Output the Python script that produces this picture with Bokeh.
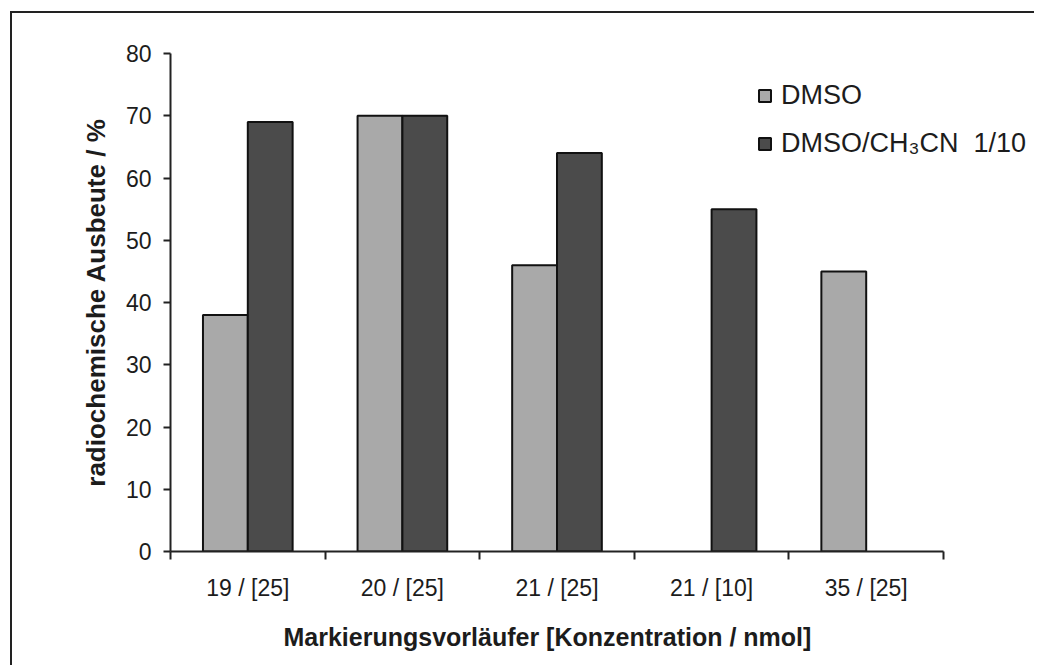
from bokeh.plotting import figure
from bokeh.models import (ColumnDataSource, Range1d, FixedTicker, Legend, LegendItem, Title)
from bokeh.transform import dodge
from bokeh.embed import file_html
from bokeh.resources import INLINE

# ---- data ----
categories = ["19 / [25]", "20 / [25]", "21 / [25]", "21 / [10]", "35 / [25]"]
dmso = [38, 70, 46, None, 45]
dmso_ch3cn = [69, 70, 64, 55, None]
series_names = ["DMSO", "DMSO/CH\u2083CN  1/10"]
y_ticks = [0, 10, 20, 30, 40, 50, 60, 70, 80]
x_title = "Markierungsvorläufer [Konzentration / nmol]"
y_title = "radiochemische Ausbeute / %"

FONT = "Liberation Sans"
TXT = "#1c1c1c"
LIGHT = "#a9a9a9"
DARK = "#4b4b4b"

W, H = 1024, 654
LEFT, TOP, BOTTOM = 158, 40, 116
AXIS_PX = 773  # pixel length of the category axis

n = len(categories)
xc = [i + 0.5 for i in range(n)]
nan = float("nan")
src = ColumnDataSource(dict(
    x=xc,
    a=[nan if v is None else v for v in dmso],
    b=[nan if v is None else v for v in dmso_ch3cn],
))

x_end = n * (W - LEFT) / AXIS_PX

p = figure(width=W, height=H, output_backend="svg", toolbar_location=None,
           x_range=Range1d(0, x_end), y_range=Range1d(0, 80),
           min_border_left=LEFT, min_border_top=TOP, min_border_right=0, min_border_bottom=BOTTOM,
           margin=(11, 0, 0, 10),
           styles={"border-left": "2px solid #222", "border-top": "2px solid #222"})
p.outline_line_color = None
p.grid.grid_line_color = None
p.background_fill_color = "white"
p.border_fill_color = "white"

bw = 0.29
r1 = p.vbar(x=dodge("x", -bw / 2, range=p.x_range), top="a", width=bw, source=src,
            fill_color=LIGHT, line_color="#111111", line_width=2)
r2 = p.vbar(x=dodge("x", bw / 2, range=p.x_range), top="b", width=bw, source=src,
            fill_color=DARK, line_color="#111111", line_width=2)

# y axis
ya = p.yaxis[0]
ya.ticker = FixedTicker(ticks=y_ticks)
ya.axis_label = y_title
ya.axis_label_text_font = FONT
ya.axis_label_text_font_style = "bold"
ya.axis_label_text_font_size = "26px"
ya.axis_label_text_color = TXT
ya.axis_label_standoff = 12
ya.major_label_text_font = FONT
ya.major_label_text_font_size = "23px"
ya.major_label_text_color = TXT
ya.major_label_standoff = 12
ya.major_tick_in = 0
ya.major_tick_out = 7
ya.minor_tick_line_color = None
ya.axis_line_width = 2
ya.axis_line_color = "#222"
ya.major_tick_line_width = 2
ya.major_tick_line_color = "#222"

# x axis
xa = p.xaxis[0]
xa.bounds = (0, n)
xa.ticker = FixedTicker(ticks=xc, minor_ticks=list(range(n + 1)))
xa.major_label_overrides = {x: c for x, c in zip(xc, categories)}
xa.major_label_text_font = FONT
xa.major_label_text_font_size = "23px"
xa.major_label_text_color = TXT
xa.major_label_standoff = 15
xa.major_tick_in = 0
xa.major_tick_out = 0
xa.minor_tick_in = 0
xa.minor_tick_out = 8
xa.minor_tick_line_width = 2
xa.minor_tick_line_color = "#222"
xa.axis_line_width = 2
xa.axis_line_color = "#222"

# x-axis title (as a below title so it can be offset under the category axis)
xt = Title(text=x_title, align="left", offset=113, standoff=34,
           text_font=FONT, text_font_style="bold", text_font_size="25px", text_color=TXT)
p.add_layout(xt, "below")

legend = Legend(items=[LegendItem(label=series_names[0], renderers=[r1]),
                       LegendItem(label=series_names[1], renderers=[r2])],
                location=(587, 392))
legend.label_text_font = FONT
legend.label_text_font_size = "27px"
legend.label_text_color = TXT
legend.glyph_width = 15
legend.glyph_height = 15
legend.spacing = 17
legend.label_standoff = 9
legend.padding = 0
legend.margin = 0
legend.border_line_color = None
legend.background_fill_alpha = 0
p.add_layout(legend)

open("out.html", "w").write(file_html(p, INLINE))
